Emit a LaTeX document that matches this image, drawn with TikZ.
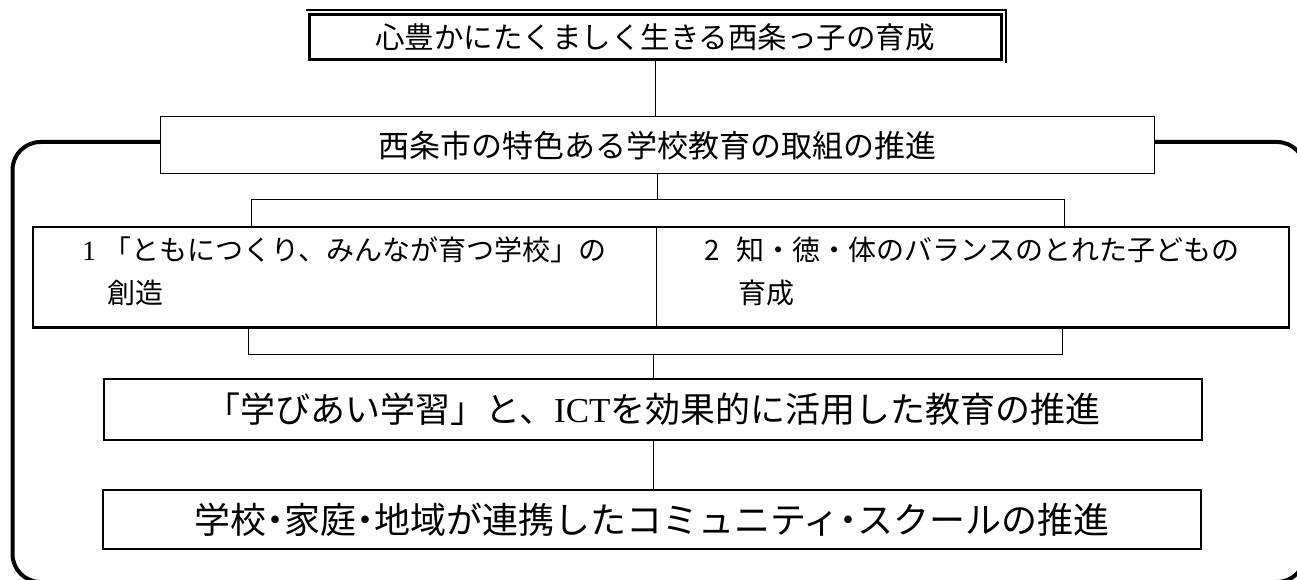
\documentclass[tikz,border=0pt]{standalone}
\usepackage{fontspec}
\setmainfont{Liberation Serif}
\newfontfamily\jp{Noto Sans CJK JP}
\newcommand{\hdot}{\makebox[0.5em]{・}}
\usetikzlibrary{calc}
\begin{document}
\begin{tikzpicture}[x=1pt,y=-1pt,
  thinbox/.style={draw, line width=1pt, fill=white, inner sep=0pt},
  thickbox/.style={draw, line width=2.5pt, fill=white, inner sep=0pt},
  link/.style={draw, line width=1pt},
  frame/.style={draw, line width=4pt, rounded corners=28pt},
  rowtxt/.style={inner sep=0pt, anchor=base west, font=\jp\fontsize{28}{32}\selectfont}
]
\useasboundingbox (0,0) rectangle (1297,580);
% big rounded frame
\draw[frame] (12.5,142) rectangle (1305,582);

% top box
\node[thickbox, line width=3pt, minimum width=692pt, minimum height=45pt, font=\jp\fontsize{29.5}{34}\selectfont]
  (top) at (655,37.5) {心豊かにたくましく生きる西条っ子の育成};
\coordinate (tl) at ($(top.north west)+(-1.5,-3.5)$);
\coordinate (tr) at ($(top.north east)+(3.5,-3.5)$);
\coordinate (trb) at ($(top.south east)+(3.5,1.5)$);
\draw[line width=1.2pt] (tl) -- (tr) -- (trb);

% second box
\node[thinbox, minimum width=994pt, minimum height=57pt, font=\jp\fontsize{31}{36}\selectfont]
  (b2) at (657,145.5) {西条市の特色ある学校教育の取組の推進};
\draw[link] (top.south) -- (top.south |- b2.north);

% row of two boxes
\node[inner sep=0pt, minimum width=623pt, minimum height=100pt] (r1) at (344.5,277.25) {};
\node[inner sep=0pt, minimum width=633pt, minimum height=100pt] (r2) at (972.5,277.25) {};
\draw[line width=2.5pt] (r1.north west) rectangle (r2.south east);
\draw[line width=1pt] (r1.north east) -- (r1.south east);

\node[rowtxt] (t1n) at (82,260) {\rmfamily 1};
\node[rowtxt] (t1a) at (103,260) {「ともにつくり、みんなが育つ学校」の};
\node[rowtxt] (t1b) at (107,303) {創造};
\node[rowtxt] (t2n) at (704,260) {2};
\node[rowtxt] (t2a) at (736,260) {知・徳・体のバランスのとれた子どもの};
\node[rowtxt] (t2b) at (738,303) {育成};

% upper bracket
\coordinate (ubl) at (251,199);
\coordinate (ubr) at (1064,199);
\draw[link] (b2.south) -- (b2.south |- ubl);
\draw[link] (ubl |- r1.north) -- (ubl) -- (ubr) -- (ubr |- r2.north);

% ICT box
\node[thickbox, minimum width=1098pt, minimum height=61pt, font=\jp\fontsize{35}{40}\selectfont]
  (ict) at (653,409.5) {「学びあい学習」と、{\rmfamily ICT}を効果的に活用した教育の推進};

% lower bracket
\coordinate (lbl) at (248,354);
\coordinate (lbr) at (1062,354);
\draw[link] (lbl |- r1.south) -- (lbl) -- (lbr) -- (lbr |- r2.south);
\draw[link] (ict.north) -- (ict.north |- lbl);

% bottom box
\node[thickbox, minimum width=1098pt, minimum height=59pt, font=\jp\fontsize{36}{40}\selectfont]
  (bot) at (652,519.5) {学校\hdot 家庭\hdot 地域が連携したコミュニティ\hdot スクールの推進};
\draw[link] (ict.south) -- (ict.south |- bot.north);
\end{tikzpicture}
\end{document}
